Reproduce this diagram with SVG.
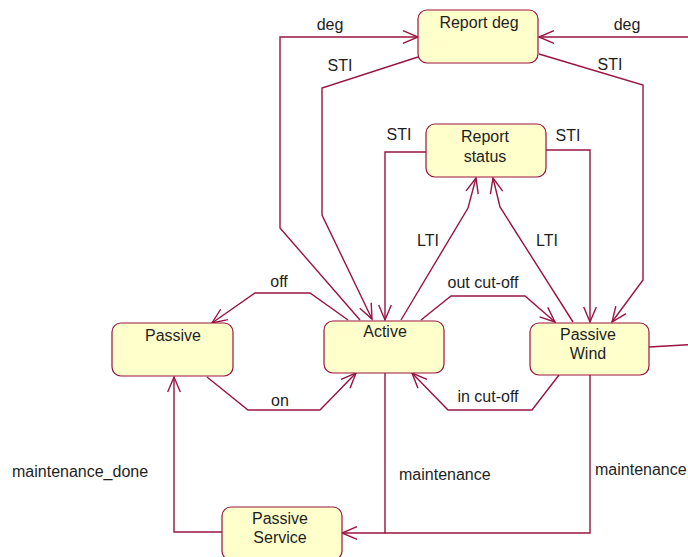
<svg xmlns="http://www.w3.org/2000/svg" width="688" height="557" viewBox="0 0 688 557">
  <style>
    .state rect { fill: #FFFFCC; stroke: #99143F; stroke-width: 1.2; }
    .state text, .lbl { font-family: "Liberation Sans", Arial, sans-serif; font-size: 16px; fill: #1E1E1E; }
    .state text { text-anchor: middle; }
    .conn path { fill: none; stroke: #99143F; stroke-width: 1.4; stroke-linejoin: miter; }
    .arrow { marker-end: url(#open); }
  </style>
  <defs>
    <marker id="open" viewBox="-17 -8 19 16" refX="0" refY="0" markerWidth="19" markerHeight="16" markerUnits="userSpaceOnUse" orient="auto">
      <path d="M-15,-6.3 L0,0 L-15,6.3" fill="none" stroke="#99143F" stroke-width="1.4"/>
    </marker>
  </defs>

  <rect width="688" height="557" fill="#FFFFFF"/>

  <!-- transitions -->
  <g id="connectors" class="conn">
    <path class="arrow" d="M360,320 L280,228 L280,37 L418,37"/>
    <path class="arrow" d="M649,347 L700,344 L700,37 L539,37"/>
    <path class="arrow" d="M418,57 L322,88 L322,215 L372,319"/>
    <path class="arrow" d="M539,54 L643,85 L643,280 L612,322"/>
    <path class="arrow" d="M426,152 L385,152 L385,320"/>
    <path class="arrow" d="M546,150 L590,150 L590,322"/>
    <path class="arrow" d="M401,320 L468,208 L476,178"/>
    <path class="arrow" d="M573,322 L500,207 L493,178"/>
    <path class="arrow" d="M421,320 L451,296 L525,296 L555,322"/>
    <path class="arrow" d="M348,320 L310,293 L255,293 L212,323"/>
    <path class="arrow" d="M207,377 L248,410 L320,410 L356,373"/>
    <path class="arrow" d="M559,375 L532,410 L448,410 L412,373"/>
    <path class="arrow" d="M385,373 L385,533 L342,533"/>
    <path d="M590,375 L590,533 L385,533"/>
    <path class="arrow" d="M222,532 L174,532 L174,377"/>
  </g>

  <!-- transition labels -->
  <g id="labels">
    <text class="lbl" x="330" y="30" text-anchor="middle">deg</text>
    <text class="lbl" x="627" y="30" text-anchor="middle">deg</text>
    <text class="lbl" x="340" y="71" text-anchor="middle">STI</text>
    <text class="lbl" x="610" y="70" text-anchor="middle">STI</text>
    <text class="lbl" x="399" y="140" text-anchor="middle">STI</text>
    <text class="lbl" x="568" y="141" text-anchor="middle">STI</text>
    <text class="lbl" x="428" y="246" text-anchor="middle">LTI</text>
    <text class="lbl" x="547" y="246" text-anchor="middle">LTI</text>
    <text class="lbl" x="483" y="288" text-anchor="middle">out cut-off</text>
    <text class="lbl" x="279" y="287" text-anchor="middle">off</text>
    <text class="lbl" x="280" y="406" text-anchor="middle">on</text>
    <text class="lbl" x="488" y="402" text-anchor="middle">in cut-off</text>
    <text class="lbl" x="12" y="477">maintenance_done</text>
    <text class="lbl" x="399" y="480">maintenance</text>
    <text class="lbl" x="595" y="475">maintenance</text>
  </g>

  <!-- states -->
  <g id="report-deg" class="state">
    <rect x="418" y="10" width="120" height="53" rx="9"/>
    <text x="479" y="28">Report deg</text>
  </g>
  <g id="report-status" class="state">
    <rect x="426" y="124" width="120" height="53" rx="9"/>
    <text x="485" y="142">Report</text>
    <text x="485" y="162">status</text>
  </g>
  <g id="passive" class="state">
    <rect x="112" y="323" width="121" height="53" rx="9"/>
    <text x="173" y="341">Passive</text>
  </g>
  <g id="active" class="state">
    <rect x="324" y="321" width="120" height="52" rx="9"/>
    <text x="385" y="337">Active</text>
  </g>
  <g id="passive-wind" class="state">
    <rect x="530" y="323" width="119" height="52" rx="9"/>
    <text x="588" y="340">Passive</text>
    <text x="588" y="359">Wind</text>
  </g>
  <g id="passive-service" class="state">
    <rect x="222" y="507" width="120" height="53" rx="9"/>
    <text x="280" y="524">Passive</text>
    <text x="280" y="543">Service</text>
  </g>
</svg>
